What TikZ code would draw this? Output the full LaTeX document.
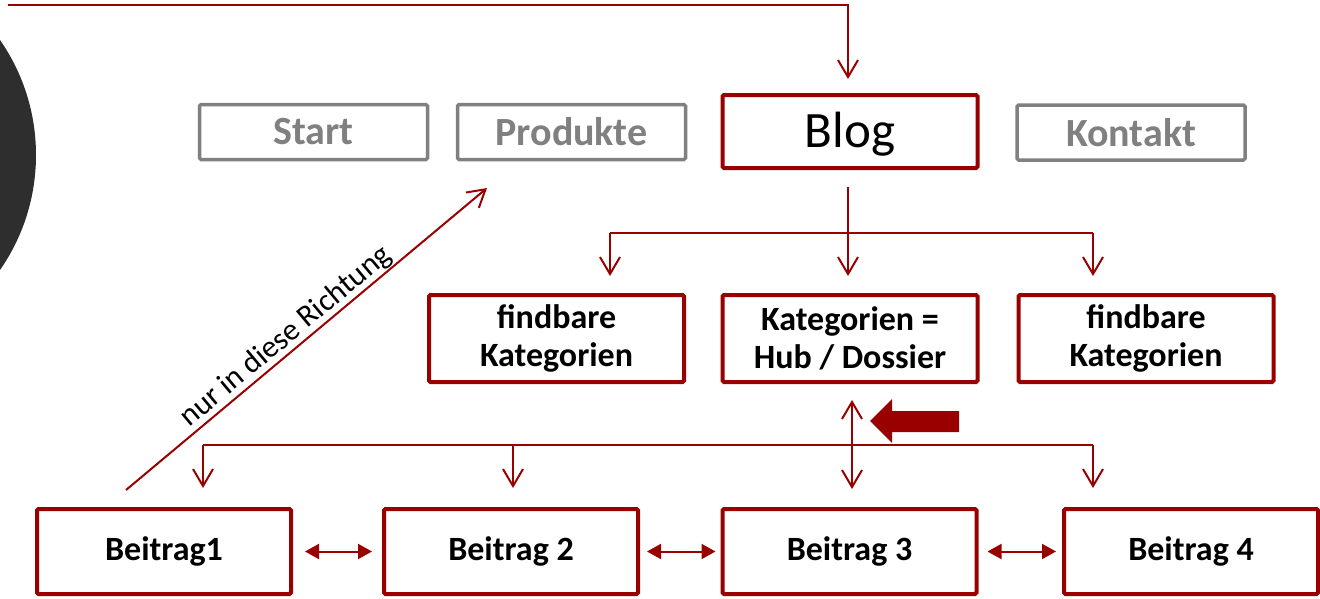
\documentclass[tikz,border=0pt]{standalone}
\usepackage{fontspec}
\setmainfont{Carlito}
\usetikzlibrary{arrows.meta,calc}
\definecolor{darkred}{HTML}{990000}
\definecolor{navgray}{HTML}{808080}
\definecolor{disc}{HTML}{2E2E2E}

\begin{document}
\begin{tikzpicture}[x=1pt,y=-1pt,
  navbox/.style={draw=navgray, line width=3.5pt, rounded corners=1.5pt,
    text=navgray, font=\fontsize{40}{44}\selectfont\bfseries,
    minimum width=228pt, minimum height=55pt, inner sep=0pt},
  redbox/.style={draw=darkred, line width=4pt, rounded corners=1.5pt,
    align=center, inner sep=0pt, minimum width=255pt,
    font=\fontsize{34}{38}\selectfont\bfseries},
  link/.style={draw=darkred, line width=2pt},
  barb/.style={link, -{Straight Barb[length=17pt,width=20pt]}},
  twobarb/.style={link, {Straight Barb[length=17pt,width=20pt]}-{Straight Barb[length=17pt,width=20pt]}},
  twotri/.style={link, {Triangle[length=14pt,width=15pt]}-{Triangle[length=14pt,width=15pt]}},
]
\useasboundingbox (0,0) rectangle (1320,598);

% dark disc cut by the left edge
\begin{scope}
  \clip (0,0) rectangle (1320,598);
  \fill[disc] (-165.7,155) circle[radius=201.7];
\end{scope}

% navigation bar
\node[navbox] (start)    at (313.5,132) {Start};
\node[navbox] (produkte) at (571.5,132) {Produkte};
\node[redbox, minimum height=73pt, text height=42pt, text depth=10pt,
  font=\fontsize{51}{54}\selectfont] (blog) at (850,131.5) {Blog};
\node[navbox] (kontakt)  at (1131,132.5) {Kontakt};

% category level
\node[redbox, minimum height=87pt] (fk1) at (556.5,338.5) {findbare\\Kategorien};
\node[redbox, minimum height=87pt] (hub) at (850,338.5) {Kategorien =\\Hub / Dossier};
\node[redbox, minimum height=87pt] (fk2) at (1146,338.5) {findbare\\Kategorien};

% posts
\node[redbox, minimum width=254pt, minimum height=85pt] (b1) at (164,551.5) {Beitrag1};
\node[redbox, minimum width=254pt, minimum height=85pt] (b2) at (511,551.5) {Beitrag 2};
\node[redbox, minimum width=254pt, minimum height=85pt] (b3) at (849.5,551.5) {Beitrag 3};
\node[redbox, minimum width=254pt, minimum height=85pt] (b4) at (1191,551.5) {Beitrag 4};

% incoming link into the blog
\coordinate (feed) at (8,5);
\draw[barb] (feed) -| ($(blog.north)+(-2,-14)$);

% blog to categories
\coordinate (catbus) at (848,233);
\coordinate (catL) at (610,233);
\coordinate (catR) at (1093,233);
\draw[link] ($(blog.south)+(-2,17)$) -- (catbus);
\draw[link] (catL) -- (catR);
\draw[barb] (catL) -- ($(fk1.north)+(53.5,-17)$);
\draw[barb] (catbus) -- ($(hub.north)+(-2,-17)$);
\draw[barb] (catR) -- ($(fk2.north)+(-53,-17)$);

% hub to posts
\coordinate (postL) at (203,445);
\coordinate (postR) at (1093,445);
\draw[link] (postL) -- (postR);
\draw[barb] (postL) -- ($(b1.north)+(39,-19)$);
\draw[barb] ($(b2.north)+(2,-62)$) -- ($(b2.north)+(2,-19)$);
\draw[barb] (postR) -- ($(b4.north)+(-98,-19)$);
\draw[twobarb] ($(hub.south)+(2,16)$) -- ($(b3.north)+(2.5,-18)$);

% block arrow pointing at the hub
\fill[darkred] (870,421) -- (892,399) -- (892,411) -- (959,411)
  -- (959,432) -- (892,432) -- (892,443) -- cycle;

% links between neighbouring posts
\draw[twotri, shorten <=12pt, shorten >=10pt] (b1) -- (b2);
\draw[twotri, shorten <=7pt, shorten >=5pt] (b2) -- (b3);
\draw[twotri, shorten <=9pt, shorten >=6pt] (b3) -- (b4);

% one-way link back up
\coordinate (upfrom) at (126,490);
\coordinate (upto) at (487,188);
\draw[barb] (upfrom) -- node[pos=0.47, sloped, above, inner sep=0.5pt,
  font=\fontsize{31}{34}\selectfont] (dir) {nur in diese Richtung} (upto);
\end{tikzpicture}
\end{document}
